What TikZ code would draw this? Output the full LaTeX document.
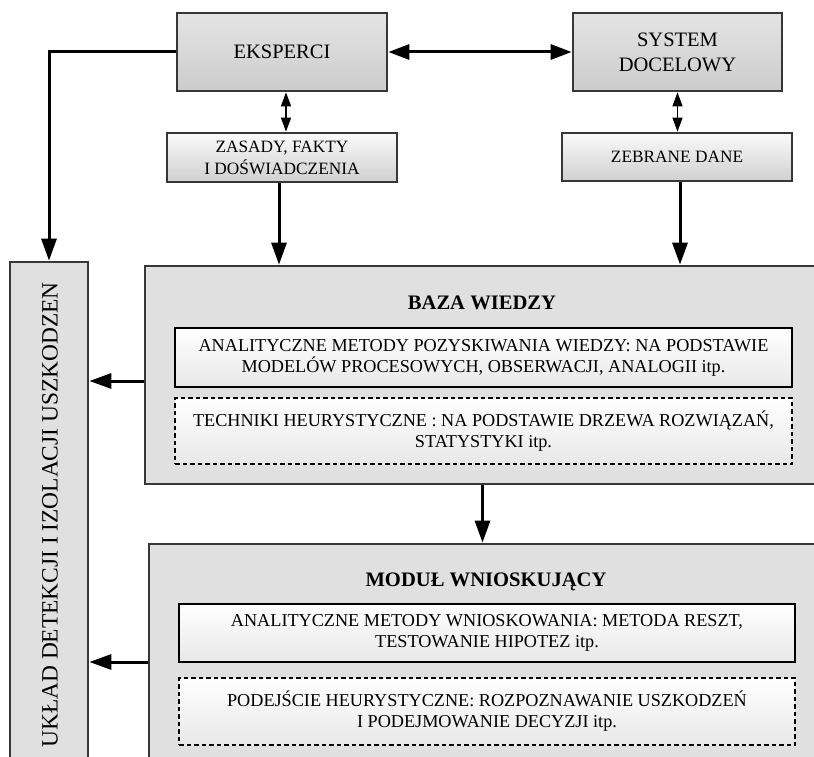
\documentclass[tikz,border=0pt]{standalone}
\usepackage{fontspec}
\setmainfont{Liberation Serif}
\usetikzlibrary{arrows.meta}
\definecolor{edgegray}{RGB}{55,55,55}
\definecolor{topA}{RGB}{228,228,228}
\definecolor{topB}{RGB}{204,204,204}
\definecolor{smA}{RGB}{250,250,250}
\definecolor{smB}{RGB}{208,208,208}
\definecolor{bigfill}{RGB}{224,224,224}
\definecolor{innB}{RGB}{232,232,232}
\newcommand{\myfbig}{\fontsize{20.5}{25}\selectfont}
\newcommand{\myfsmall}{\fontsize{17.3}{22}\selectfont}
\newcommand{\myfin}{\fontsize{18.2}{21}\selectfont}
\newcommand{\myftitle}{\fontsize{20.6}{24}\selectfont\bfseries}
\newcommand{\myfside}{\fontsize{23.4}{28}\selectfont}
\tikzset{
 topbox/.style={draw=edgegray, line width=2.7pt, top color=topA, bottom color=topB, inner sep=0pt, align=center, font=\myfbig},
 smallbox/.style={draw=edgegray, line width=2.7pt, top color=smA, bottom color=smB, inner sep=0pt, align=center, font=\myfsmall},
 bigbox/.style={draw=edgegray, line width=2.7pt, fill=bigfill, inner sep=0pt},
 innerbox/.style={draw=black, line width=2.6pt, top color=white, bottom color=innB, inner sep=0pt, align=center, font=\myfin},
 dashbox/.style={innerbox, dash pattern=on 4.5pt off 3pt},
 titletext/.style={font=\myftitle, inner sep=0pt, anchor=base},
 bigarrow/.style={line width=3pt, -{Triangle[length=22pt,width=15pt]}},
 bothbig/.style={line width=3pt, {Triangle[length=21pt,width=15pt]}-{Triangle[length=21pt,width=15pt]}},
 thinboth/.style={line width=1.3pt, {Triangle[length=14pt,width=10pt]}-{Triangle[length=14pt,width=10pt]}},
}
\begin{document}
\begin{tikzpicture}[x=1pt,y=-1pt]
\useasboundingbox (0,0) rectangle (814,757);
\clip (0,0) rectangle (814,757);
\fill[white] (0,0) rectangle (814,757);
% top boxes
\node[topbox, minimum width=210pt, minimum height=78pt] (eksp) at (282,52) {EKSPERCI};
\node[topbox, minimum width=209pt, minimum height=78pt] (sys) at (677.5,52) {SYSTEM\\DOCELOWY};
\node[smallbox, minimum width=230pt, minimum height=49pt] (zas) at (282,157.5) {ZASADY, FAKTY\\I DOŚWIADCZENIA};
\node[smallbox, minimum width=230pt, minimum height=48pt] (zeb) at (677,157) {ZEBRANE DANE};
% side box
\node[bigbox, minimum width=78pt, minimum height=506pt] (ukl) at (49,515) {};
\node[rotate=90, font=\myfside, inner sep=0pt] (uklt) at (50,515) {UKŁAD DETEKCJI I IZOLACJI USZKODZEN};
% knowledge base
\node[bigbox, minimum width=675pt, minimum height=218pt] (baza) at (482.5,375) {};
\node[titletext] (bazat) at (482,309) {BAZA WIEDZY};
\node[innerbox, minimum width=617pt, minimum height=59pt] (baza1) at (483.5,357.5) {ANALITYCZNE METODY POZYSKIWANIA WIEDZY: NA PODSTAWIE\\MODELÓW PROCESOWYCH, OBSERWACJI, ANALOGII itp.};
\node[dashbox, minimum width=617pt, minimum height=66pt] (baza2) at (483.5,431) {TECHNIKI HEURYSTYCZNE : NA PODSTAWIE DRZEWA ROZWIĄZAŃ,\\STATYSTYKI itp.};
% inference module
\node[bigbox, minimum width=674pt, minimum height=236pt] (mod) at (486,662) {};
\node[titletext] (modt) at (486,586) {MODUŁ WNIOSKUJĄCY};
\node[innerbox, minimum width=616pt, minimum height=58pt] (mod1) at (487,633) {ANALITYCZNE METODY WNIOSKOWANIA: METODA RESZT,\\TESTOWANIE HIPOTEZ itp.};
\node[dashbox, minimum width=616pt, minimum height=67pt] (mod2) at (487,711.5) {PODEJŚCIE HEURYSTYCZNE: ROZPOZNAWANIE USZKODZEŃ\\I PODEJMOWANIE DECYZJI itp.};
% connectors
\draw[bothbig] (eksp.east) -- (sys.west);
\draw[thinboth] ([xshift=4pt]eksp.south) -- ([xshift=4pt]zas.north);
\draw[thinboth] (sys.south) -- (sys.south |- zeb.north);
\draw[bigarrow] ([xshift=-3pt]zas.south) -- ([xshift=-3pt]zas.south |- baza.north);
\draw[bigarrow] ([xshift=3pt]zeb.south) -- ([xshift=3pt]zeb.south |- baza.north);
\draw[bigarrow] (eksp.west) -| (ukl.north);
\draw[bigarrow] ([yshift=-6pt]baza.west) -- ([yshift=-6pt]baza.west -| ukl.east);
\draw[bigarrow] (baza.south) -- (baza.south |- mod.north);
\draw[bigarrow] (mod.west) -- (mod.west -| ukl.east);
\end{tikzpicture}
\end{document}
